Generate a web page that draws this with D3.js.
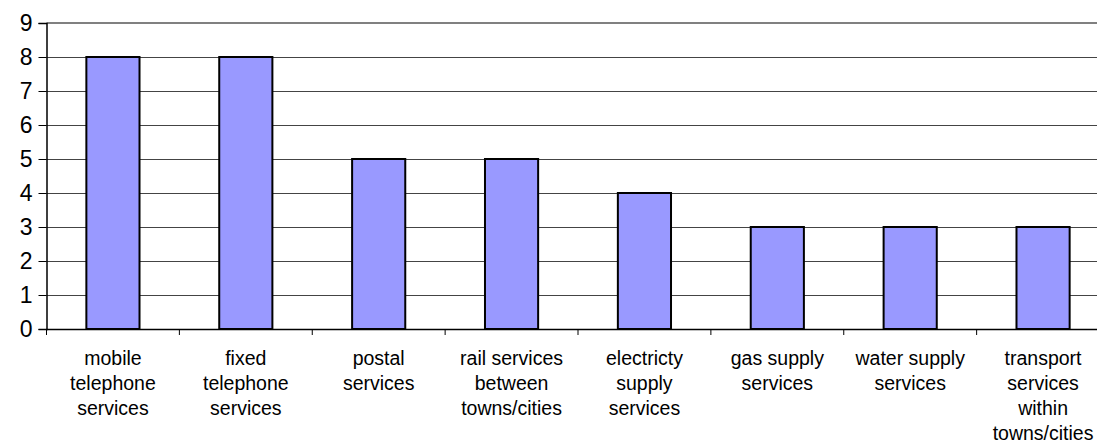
<!DOCTYPE html>
<html><head><meta charset="utf-8">
<script src="https://cdn.jsdelivr.net/npm/d3@7"></script>
<style>body{margin:0;background:#fff;}svg{display:block;}</style>
</head><body>
<svg id="c" width="1097" height="441"></svg>
<script>
const categories = [
  ["mobile","telephone","services"],
  ["fixed","telephone","services"],
  ["postal","services"],
  ["rail services","between","towns/cities"],
  ["electricty","supply","services"],
  ["gas supply","services"],
  ["water supply","services"],
  ["transport","services","within","towns/cities"]
];
const values = [8, 8, 5, 5, 4, 3, 3, 3];
const yTicks = [0,1,2,3,4,5,6,7,8,9];

const svg = d3.select("#c");
const L = 46.5, R = 1109.5, T = 23, B = 329;
const keys = categories.map(c => c.join(" "));
const x = d3.scaleBand().domain(keys).range([L, R]).paddingInner(0.6).paddingOuter(0.3);
const y = d3.scaleLinear().domain([0, 9]).range([B, T]);

// gridlines
svg.append("g").selectAll("line").data(yTicks.filter(d => d > 0 && d < 9)).join("line")
  .attr("x1", L).attr("x2", R).attr("y1", d => Math.round(y(d)) + 0.5).attr("y2", d => Math.round(y(d)) + 0.5)
  .attr("stroke", "#444").attr("stroke-width", 1);
// top border
svg.append("line").attr("x1", L).attr("x2", R).attr("y1", T).attr("y2", T)
  .attr("stroke", "#808080").attr("stroke-width", 2);

// bars
svg.append("g").selectAll("rect").data(values).join("rect")
  .attr("x", (d, i) => x(keys[i]))
  .attr("y", d => y(d))
  .attr("width", x.bandwidth())
  .attr("height", d => B - y(d))
  .attr("fill", "#9999FF").attr("stroke", "#000").attr("stroke-width", 2);

// y axis
const ya = svg.append("g").attr("transform", `translate(${L},0)`)
  .call(d3.axisLeft(y).tickValues(yTicks).tickSize(8).tickPadding(6).tickFormat(d3.format("d")));
ya.select(".domain").attr("stroke", "#000").attr("stroke-width", 1.5);
ya.selectAll(".tick line").attr("stroke", "#000");
ya.selectAll("text").attr("font-family", "Liberation Sans, Arial, sans-serif").attr("font-size", 23).attr("fill", "#000");

// x axis
svg.append("line").attr("x1", L).attr("x2", R).attr("y1", B + 0.5).attr("y2", B + 0.5)
  .attr("stroke", "#000").attr("stroke-width", 1.5);
const step = x.step();
svg.append("g").selectAll("line").data(d3.range(categories.length + 1)).join("line")
  .attr("x1", i => L + i * step).attr("x2", i => L + i * step)
  .attr("y1", B).attr("y2", B + 6).attr("stroke", "#000").attr("stroke-width", 1);

// category labels
const lab = svg.append("g").selectAll("text").data(categories).join("text")
  .attr("text-anchor", "middle")
  .attr("font-family", "Liberation Sans, Arial, sans-serif").attr("font-size", 19.5).attr("fill", "#000")
  .attr("x", (d, i) => x(keys[i]) + x.bandwidth() / 2)
  .attr("y", 365);
lab.selectAll("tspan").data(d => d).join("tspan")
  .attr("x", function() { return this.parentNode.getAttribute("x"); })
  .attr("dy", (d, i) => i === 0 ? 0 : 25)
  .text(d => d);
</script>
</body></html>
